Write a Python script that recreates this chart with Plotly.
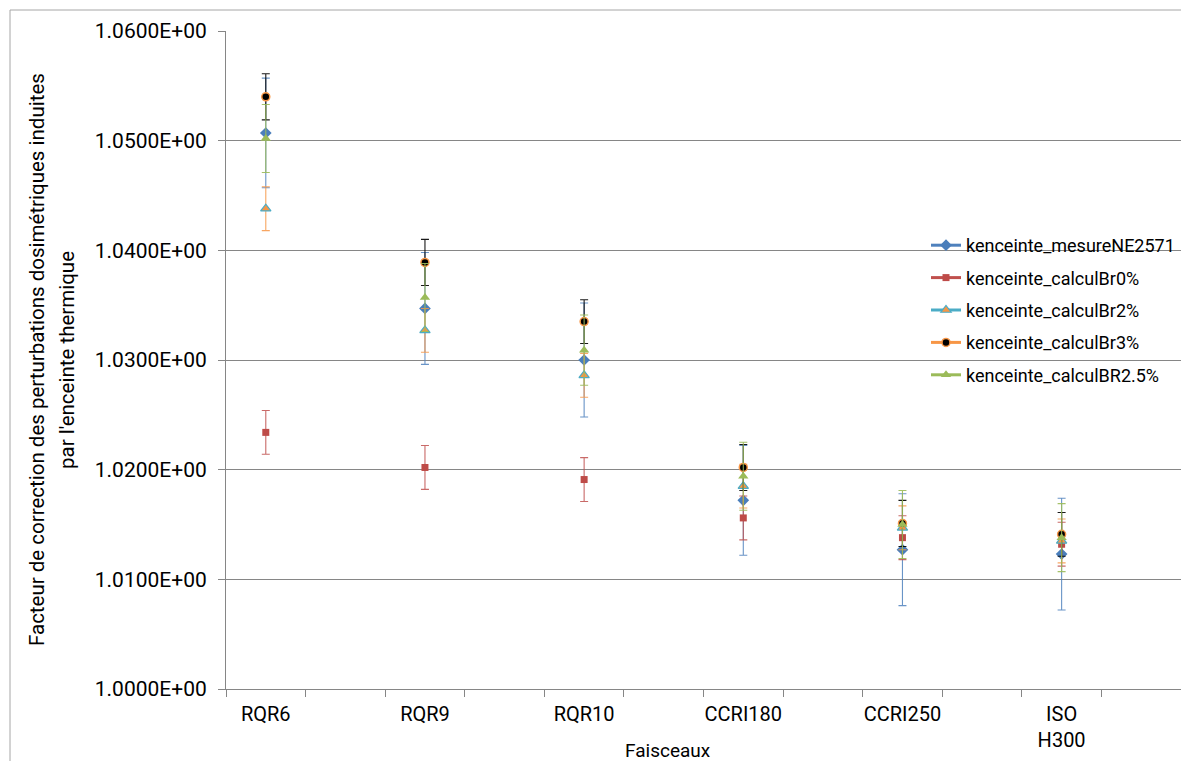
import plotly.graph_objects as go

# ---- data ----
categories = ["RQR6", "RQR9", "RQR10", "CCRI180", "CCRI250", "ISO<br>H300"]

mesure_ne2571 = [1.0507, 1.0347, 1.0300, 1.0172, 1.0127, 1.0123]
mesure_ne2571_err = [0.0050, 0.0051, 0.0052, 0.0050, 0.0051, 0.0051]

calcul_br0 = [1.0234, 1.0202, 1.0191, 1.0156, 1.0138, 1.0132]
calcul_br0_err = [0.0020, 0.0020, 0.0020, 0.0020, 0.0020, 0.0020]

calcul_br2 = [1.0438, 1.0327, 1.0286, 1.0185, 1.0147, 1.0135]
calcul_br2_err = [0.0020, 0.0020, 0.0020, 0.0020, 0.0020, 0.0020]

calcul_br3 = [1.0540, 1.0389, 1.0335, 1.0202, 1.0151, 1.0141]
calcul_br3_err = [0.0021, 0.0021, 0.0020, 0.0021, 0.0021, 0.0020]

calcul_br25 = [1.0502, 1.0357, 1.0309, 1.0194, 1.0150, 1.0138]
calcul_br25_err = [0.0031, 0.0031, 0.0032, 0.0031, 0.0031, 0.0031]

y_ticks = [1.00, 1.01, 1.02, 1.03, 1.04, 1.05, 1.06]

# Excel sheet has an empty row after each beam -> blank categories (gaps)
x_full = []
for i, c in enumerate(categories):
    x_full.append(c)
    x_full.append(" " * (i + 1))


def with_gaps(vals):
    out = []
    for v in vals:
        out.append(v)
        out.append(None)
    return out


series = [
    ("kenceinte_mesureNE2571", mesure_ne2571, mesure_ne2571_err,
     dict(symbol="diamond", size=9, color="#4A7EBB", line=dict(width=0)),
     "#4F81BD", "rgba(79,129,189,0.85)"),
    ("kenceinte_calculBr0%", calcul_br0, calcul_br0_err,
     dict(symbol="square", size=7, color="#BE4B48", line=dict(width=0)),
     "#C0504D", "rgba(192,80,77,0.85)"),
    ("kenceinte_calculBr2%", calcul_br2, calcul_br2_err,
     dict(symbol="triangle-up", size=9, color="#F79646", line=dict(width=1.2, color="#4BACC6")),
     "#4BACC6", "rgba(247,150,70,0.85)"),
    ("kenceinte_calculBr3%", calcul_br3, calcul_br3_err,
     dict(symbol="circle", size=8, color="#000000", line=dict(width=1.5, color="#F79646")),
     "#F79646", "rgba(0,0,0,0.9)"),
    ("kenceinte_calculBR2.5%", calcul_br25, calcul_br25_err,
     dict(symbol="triangle-up", size=9, color="#9BBB59", line=dict(width=0)),
     "#9BBB59", "rgba(155,187,89,0.9)"),
]

fig = go.Figure()
for i, (name, vals, errs, marker, lcolor, ecolor) in enumerate(series):
    fig.add_trace(go.Scatter(
        x=x_full, y=with_gaps(vals), name=name,
        mode="lines+markers", connectgaps=False,
        line=dict(color=lcolor, width=3),
        marker=marker,
        legendgroup=f"g{i}",
        error_y=dict(type="data", array=with_gaps(errs), symmetric=True,
                     color=ecolor, thickness=1.1, width=4),
    ))

# page has an 8px body margin: figure is 1173x753 so it fits the 1189x769 window
PX, PY = 8, 8
L, T = 226 - PX, 31 - PY
W, H = 1173, 753
PW, PH = 955, 658


def px_x(x):  # page pixel -> paper x
    return (x - PX - L) / PW


def px_y(y):  # page pixel -> paper y
    return 1 - (y - PY - T) / PH


axis_gray = "#868686"
fig.update_layout(
    width=W, height=H,
    paper_bgcolor="white", plot_bgcolor="white",
    margin=dict(l=L, r=W - L - PW, t=T, b=H - T - PH, autoexpand=False),
    font=dict(family="Roboto, Open Sans, sans-serif", size=18, color="#000000"),
    showlegend=True,
    legend=dict(x=px_x(926), y=px_y(227), xanchor="left", yanchor="top",
                bgcolor="rgba(0,0,0,0)", font=dict(size=18),
                traceorder="grouped", tracegroupgap=6),
    xaxis=dict(type="category", categoryorder="array", categoryarray=x_full,
               range=[-0.5, len(x_full) - 0.5],
               tickson="boundaries", ticks="outside", ticklen=7, tickcolor=axis_gray,
               showline=True, linecolor=axis_gray, linewidth=1,
               showgrid=False, zeroline=False, tickangle=0, automargin=False,
               tickfont=dict(family="Roboto, sans-serif", size=20),
               ticklabelstandoff=7),
    yaxis=dict(range=[1.0, 1.06], tickvals=y_ticks,
               ticktext=[f"{v:.4E}" for v in y_ticks],
               ticks="outside", ticklen=7, tickcolor=axis_gray,
               showline=True, linecolor=axis_gray, linewidth=1,
               showgrid=True, gridcolor=axis_gray, gridwidth=1, zeroline=False,
               automargin=False,
               tickfont=dict(family="Roboto, sans-serif", size=21),
               ticklabelstandoff=7),
)

title_lines = ["Facteur de correction des perturbations dosimétriques induites",
               "par l'enceinte thermique"]
for line, cx in zip(title_lines, [37, 67]):
    fig.add_annotation(
        text=line, xref="paper", yref="paper", x=px_x(cx), y=px_y(360),
        xanchor="center", yanchor="middle", textangle=-90, showarrow=False,
        font=dict(family="Roboto, sans-serif", size=20.5),
    )
fig.add_annotation(
    text="Faisceaux", xref="paper", yref="paper",
    x=px_x(668), y=px_y(750),
    xanchor="center", yanchor="middle", showarrow=False,
    font=dict(family="Roboto, sans-serif", size=19),
)
fig.add_shape(type="rect", xref="paper", yref="paper",
              x0=px_x(10), x1=px_x(1210),
              y0=px_y(790), y1=px_y(10),
              line=dict(color="#A6A6A6", width=1), layer="below")

fig.write_html("out.html")
